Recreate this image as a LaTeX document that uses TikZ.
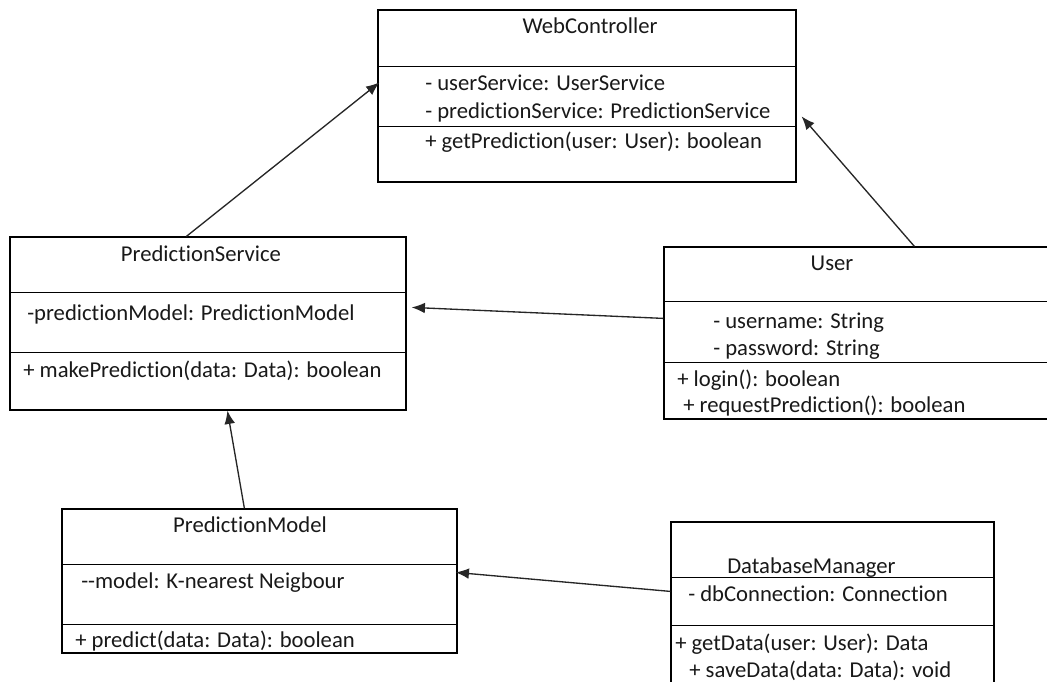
\documentclass[tikz,border=0pt]{standalone}
\usepackage{fontspec}
\setmainfont{Carlito}[Ligatures={NoCommon}]
\usetikzlibrary{fit,calc,arrows.meta}
\tikzset{
  classbox/.style={draw=black, line width=0.9pt, inner sep=0pt, fill=none},
  divider/.style={draw=black, line width=0.9pt},
  txt/.style={inner sep=0pt, anchor=base west, font=\fontsize{17}{20}\selectfont, text=black!90},
  ttl/.style={txt, anchor=base},
  assoc/.style={draw=black!85, line width=1pt, -{Latex[length=10pt,width=8pt]}}
}
\begin{document}
\begin{tikzpicture}[x=0.75pt, y=-0.75pt]
\useasboundingbox (0,0) rectangle (1047,682);
\fill[white] (0,0) rectangle (1047,682);
\clip (0,0) rectangle (1047,682);

% WebController
\node[classbox, fit={(378,10) (796,182)}] (wc) {};
\draw[divider] ($(wc.north west)+(0,57)$) -- ($(wc.north east)+(0,57)$);
\draw[divider] ($(wc.north west)+(0,117)$) -- ($(wc.north east)+(0,117)$);
\node[ttl] (wc-t) at (590,33) {WebController};
\node[txt] (wc-a1) at (425,90) {- userService: UserService};
\node[txt] (wc-a2) at (425,118) {- predictionService: PredictionService};
\node[txt] (wc-m1) at (425,148) {+ getPrediction(user: User): boolean};

% PredictionService
\node[classbox, fit={(10,237) (406,410)}] (ps) {};
\draw[divider] ($(ps.north west)+(0,56)$) -- ($(ps.north east)+(0,56)$);
\draw[divider] ($(ps.north west)+(0,116)$) -- ($(ps.north east)+(0,116)$);
\node[ttl] (ps-t) at (201,261) {PredictionService};
\node[txt] (ps-a1) at (27,320) {-predictionModel: PredictionModel};
\node[txt] (ps-m1) at (23,377) {+ makePrediction(data: Data): boolean};

% User
\node[classbox, fit={(664,247) (1060,419)}] (us) {};
\draw[divider] ($(us.north west)+(0,55)$) -- ($(us.north east)+(0,55)$);
\draw[divider] ($(us.north west)+(0,116)$) -- ($(us.north east)+(0,116)$);
\node[ttl] (us-t) at (832,270) {User};
\node[txt] (us-a1) at (713,328) {- username: String};
\node[txt] (us-a2) at (713,355) {- password: String};
\node[txt] (us-m1) at (677,386) {+ login(): boolean};
\node[txt] (us-m2) at (683,412) {+ requestPrediction(): boolean};

% PredictionModel
\node[classbox, fit={(62,509) (457,653)}] (pm) {};
\draw[divider] ($(pm.north west)+(0,56)$) -- ($(pm.north east)+(0,56)$);
\draw[divider] ($(pm.north west)+(0,116)$) -- ($(pm.north east)+(0,116)$);
\node[ttl] (pm-t) at (250,532) {PredictionModel};
\node[txt] (pm-a1) at (81,588) {-{}-model: K-nearest Neigbour};
\node[txt] (pm-m1) at (75,647) {+ predict(data: Data): boolean};

% DatabaseManager
\node[classbox, fit={(671,522) (994,700)}] (db) {};
\draw[divider] ($(db.north west)+(0,56)$) -- ($(db.north east)+(0,56)$);
\draw[divider] ($(db.north west)+(0,104)$) -- ($(db.north east)+(0,104)$);
\node[txt] (db-t) at (727,573) {DatabaseManager};
\node[txt] (db-a1) at (688,601) {- dbConnection: Connection};
\node[txt] (db-m1) at (675,650) {+ getData(user: User): Data};
\node[txt] (db-m2) at (689,677) {+ saveData(data: Data): void};

% Associations
\draw[assoc] ($(ps.north west)+(177,0)$) -- ($(wc.north west)+(2,73)$);
\draw[assoc] ($(us.north west)+(251,0)$) -- ($(wc.north east)+(5,107)$);
\draw[assoc] ($(us.north west)+(0,72)$) -- ($(ps.north east)+(5,71)$);
\draw[assoc] ($(pm.north west)+(183,0)$) -- ($(ps.south west)+(218,0)$);
\draw[assoc] ($(db.north west)+(0,70)$) -- ($(pm.north east)+(-2,64)$);
\end{tikzpicture}
\end{document}
